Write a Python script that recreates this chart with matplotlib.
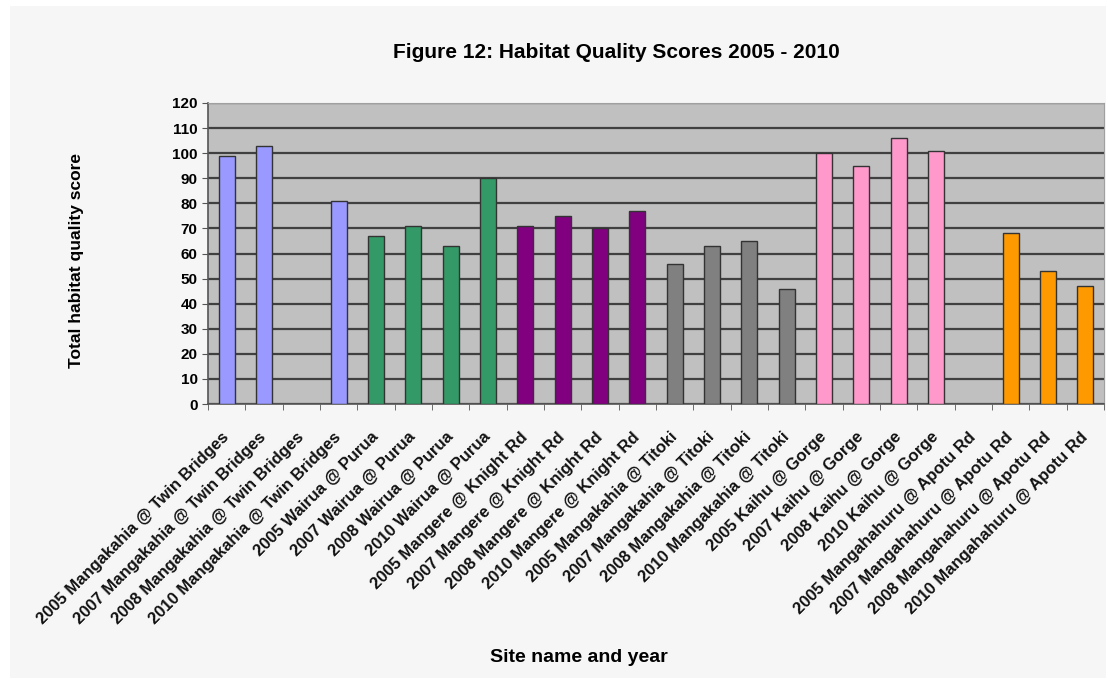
import numpy as np
import matplotlib
matplotlib.use('Agg')
import matplotlib.pyplot as plt
from matplotlib.patches import Rectangle

plt.rcParams['font.family'] = ['Liberation Sans', 'DejaVu Sans']

sites = ['Mangakahia @ Twin Bridges', 'Wairua @ Purua', 'Mangere @ Knight Rd',
         'Mangakahia @ Titoki', 'Kaihu @ Gorge', 'Mangahahuru @ Apotu Rd']
years = ['2005', '2007', '2008', '2010']
colours = ['#9999ff', '#339966', '#800080', '#808080', '#ff99cc', '#ff9900']

# scores per site, in year order (nan = not surveyed)
twin_bridges = [99, 103, np.nan, 81]
wairua = [67, 71, 63, 90]
mangere = [71, 75, 70, 77]
titoki = [56, 63, 65, 46]
kaihu = [100, 95, 106, 101]
mangahahuru = [np.nan, 68, 53, 47]
scores = [twin_bridges, wairua, mangere, titoki, kaihu, mangahahuru]

labels = []
values = []
bar_cols = []
for site, vals, col in zip(sites, scores, colours):
    for yr, v in zip(years, vals):
        labels.append(yr + ' ' + site)
        values.append(v)
        bar_cols.append(col)

W, H = 1108, 680
fig = plt.figure(figsize=(W / 100, H / 100), dpi=100, facecolor='white')
fig.patches.append(Rectangle((10 / W, 2 / H), (W - 12) / W, (H - 8) / H,
                             transform=fig.transFigure, facecolor='#f6f6f6',
                             edgecolor='none', zorder=-10))

ax = fig.add_axes([208 / W, 1 - 404 / H, (1104 - 208) / W, (404 - 103) / H])
ax.set_facecolor('#c0c0c0')

x = np.arange(len(labels))
ax.bar(x, values, width=0.42, color=bar_cols, edgecolor='#333333', linewidth=1.0, zorder=3)

ax.set_xlim(-0.5, len(labels) - 0.5)
ax.set_ylim(0, 120)
ax.set_yticks(range(0, 121, 10))
ax.yaxis.grid(True, color='#404040', linewidth=1.6, zorder=1)
ax.set_axisbelow(True)

ax.set_xticks(x)
ax.set_xticklabels(labels, rotation=45, ha='right', va='center', rotation_mode='anchor',
                   fontsize=12, fontweight='bold', color='#111111')
ax.tick_params(axis='x', length=0, pad=22)
ax.set_xticks(np.arange(-0.5, len(labels), 1), minor=True)
ax.tick_params(axis='x', which='minor', length=4, color='#555555', direction='out')
ax.tick_params(axis='y', length=4, color='#555555', labelsize=11)
for t in ax.get_yticklabels():
    t.set_fontweight('bold')

for s in ['top', 'right']:
    ax.spines[s].set_color('#a0a0a0')
for s in ['left', 'bottom']:
    ax.spines[s].set_color('#555555')
    ax.spines[s].set_linewidth(1.2)

fig.text(840 / W, 1 - 52 / H, 'Figure 12: Habitat Quality Scores 2005 - 2010',
         ha='right', va='center', fontsize=15, fontweight='bold')
fig.text(77 / W, 1 - 260 / H, 'Total habitat quality score', rotation=90,
         ha='center', va='center', fontsize=12.5, fontweight='bold')
fig.text(668 / W, 1 - 657 / H, 'Site name and year',
         ha='right', va='center', fontsize=14, fontweight='bold')

fig.savefig('out.png', dpi=100, facecolor=fig.get_facecolor())
